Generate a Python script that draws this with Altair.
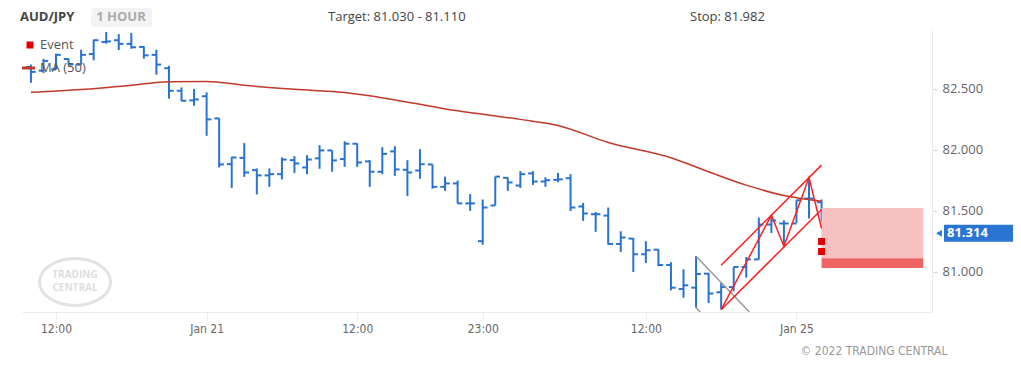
import altair as alt
import pandas as pd

# ---------------- data ----------------
bar_idx = list(range(64))
opens = [82.68, 82.65, 82.66, 82.746, 82.70, 82.787, 82.886, 82.90, 82.87, 82.845,
         82.78, 82.67, 82.485, 82.406, 82.44, 82.258, 81.882, 81.934, 81.833, 81.79,
         81.80, 81.915, 81.855, 81.93, 81.995, 81.924, 82.05, 81.905, 81.82, 81.987,
         81.836, 81.83, 81.88, 81.696, 81.724, 81.56, 81.25, 81.543, 81.77, 81.707,
         81.806, 81.74, 81.753, 81.767, 81.535, 81.471, 81.46, 81.227, 81.271, 81.142,
         81.18, 81.054, 80.857, 80.868, 80.983, 80.83, 80.873, 81.038, 81.10, 81.386,
         81.395, 81.395, 81.60, 81.57]
highs = [82.70, 82.746, 82.79, 82.748, 82.822, 82.905, 82.968, 82.95, 82.96, 82.85,
         82.822, 82.69, 82.513, 82.50, 82.472, 82.258, 81.942, 82.055, 81.847, 81.847,
         81.937, 81.948, 81.956, 82.038, 81.995, 82.07, 82.053, 81.915, 82.022, 82.03,
         81.915, 82.006, 81.88, 81.78, 81.748, 81.636, 81.592, 81.78, 81.773, 81.825,
         81.825, 81.775, 81.81, 81.80, 81.564, 81.49, 81.526, 81.331, 81.276, 81.249,
         81.181, 81.077, 81.019, 81.126, 80.988, 80.906, 81.038, 81.12, 81.444, 81.463,
         81.422, 81.586, 81.77, 81.592]
lows = [82.55, 82.63, 82.66, 82.70, 82.70, 82.735, 82.872, 82.82, 82.83, 82.748,
        82.617, 82.42, 82.40, 82.362, 82.115, 81.855, 81.687, 81.778, 81.633, 81.696,
        81.757, 81.81, 81.80, 81.844, 81.82, 81.86, 81.86, 81.696, 81.80, 81.786,
        81.62, 81.762, 81.68, 81.663, 81.56, 81.498, 81.22, 81.543, 81.663, 81.687,
        81.712, 81.696, 81.734, 81.498, 81.416, 81.326, 81.22, 81.161, 80.997, 81.07,
        81.044, 80.846, 80.786, 80.704, 80.742, 80.69, 80.838, 80.95, 81.099, 81.317,
        81.208, 81.40, 81.436, 81.41]
closes = [82.64, 82.73, 82.78, 82.70, 82.78, 82.90, 82.89, 82.87, 82.842, 82.776,
          82.70, 82.485, 82.403, 82.414, 82.25, 81.88, 81.937, 81.814, 81.79, 81.80,
          81.92, 81.888, 81.92, 81.995, 81.913, 82.05, 81.896, 81.82, 81.967, 81.839,
          81.814, 81.882, 81.696, 81.724, 81.56, 81.56, 81.526, 81.78, 81.732, 81.80,
          81.74, 81.75, 81.757, 81.526, 81.477, 81.471, 81.227, 81.28, 81.142, 81.175,
          81.054, 80.868, 80.887, 80.98, 80.82, 80.873, 81.038, 81.10, 81.386, 81.42,
          81.395, 81.586, 81.60, 81.428]

ma_idx = [0, 4, 8, 11, 14, 17, 21, 25, 29, 34, 39, 42, 46, 51, 54, 57, 60, 63]
ma_val = [82.472, 82.495, 82.53, 82.56, 82.562, 82.53, 82.497, 82.47, 82.41, 82.32,
          82.25, 82.20, 82.06, 81.935, 81.82, 81.71, 81.625, 81.578]

zigzag_idx = [55, 59, 60, 62, 63]
zigzag_val = [80.687, 81.463, 81.208, 81.773, 81.354]
upper_idx = [55, 63]
upper_val = [81.052, 81.874]
lower_idx = [55, 63]
lower_val = [80.687, 81.51]
gray1_idx = [53, 57.25]
gray1_val = [81.126, 80.668]
gray2_idx = [53, 53.33]
gray2_val = [80.704, 80.668]

box_x = [63, 71.1]
box_light = [81.11, 81.523]
box_dark = [81.03, 81.11]
event_idx = [63, 63]
event_val = [81.247, 81.165]

last_price = 81.314
tick_idx = [2, 14, 26, 36, 49, 61]
tick_lbl = ["12:00", "Jan 21", "12:00", "23:00", "12:00", "Jan 25"]
y_ticks = [81.0, 81.5, 82.0, 82.5]

# ---------------- styling ----------------
BLUE = "#2872d2"
MA_RED = "#c0392b"
PAT_RED = "#ff1f1f"
FONT = "Open Sans"
NARROW = "DejaVu Sans Condensed, Open Sans"

xscale = alt.Scale(domain=[-0.71, 71.8], nice=False, zero=False)
yscale = alt.Scale(domain=[80.668, 82.984], nice=False, zero=False)

label_expr = " : ".join(
    f"datum.value == {v} ? '{t}'" for v, t in zip(tick_idx, tick_lbl)
) + " : ''"

xaxis = alt.Axis(values=tick_idx, labelExpr=label_expr, title=None, grid=False,
                 tickSize=8, tickColor="#ececec", domainColor="#ececec",
                 labelColor="#666", labelFont=NARROW, labelFontSize=12,
                 labelPadding=3)
yaxis = alt.Axis(values=y_ticks, format=".3f", orient="right", title=None, grid=False,
                 tickSize=5, tickColor="#dddddd", domainColor="#ececec",
                 labelColor="#666", labelFont=FONT, labelFontSize=13, labelPadding=5)


def X(field):
    return alt.X(field, scale=xscale, axis=xaxis)


def Y(field):
    return alt.Y(field, scale=yscale, axis=yaxis)


df = pd.DataFrame({"i": bar_idx, "o": opens, "h": highs, "l": lows, "c": closes})

hl = alt.Chart(df).mark_rule(color=BLUE, strokeWidth=2).encode(
    x=X("i:Q"), y=Y("l:Q"), y2="h:Q")
otick = alt.Chart(df).transform_calculate(x0="datum.i - 0.38").mark_rule(
    color=BLUE, strokeWidth=2).encode(x=X("x0:Q"), x2="i:Q", y=Y("o:Q"))
ctick = alt.Chart(df).transform_calculate(x1="datum.i + 0.38").mark_rule(
    color=BLUE, strokeWidth=2).encode(x=X("i:Q"), x2="x1:Q", y=Y("c:Q"))

ma = alt.Chart(pd.DataFrame({"i": ma_idx, "v": ma_val})).mark_line(
    color=MA_RED, strokeWidth=1.5, interpolate="monotone").encode(
    x=X("i:Q"), y=Y("v:Q"))


def line(idx, val, color, w=1.5):
    return alt.Chart(pd.DataFrame({"i": idx, "v": val})).mark_line(
        color=color, strokeWidth=w).encode(x=X("i:Q"), y=Y("v:Q"))


gray1 = line(gray1_idx, gray1_val, "#9a9a9a")
gray2 = line(gray2_idx, gray2_val, "#9a9a9a")
upper = line(upper_idx, upper_val, PAT_RED)
lower = line(lower_idx, lower_val, PAT_RED)
zig = line(zigzag_idx, zigzag_val, PAT_RED)

boxes = alt.Chart(pd.DataFrame({
    "x0": [box_x[0], box_x[0]], "x1": [box_x[1], box_x[1]],
    "y0": [box_light[0], box_dark[0]], "y1": [box_light[1], box_dark[1]],
    "col": ["#f8c1c1", "#ee6363"]})).mark_rect().encode(
    x=X("x0:Q"), x2="x1:Q", y=Y("y0:Q"), y2="y1:Q",
    color=alt.Color("col:N", scale=None))

events = alt.Chart(pd.DataFrame({"i": event_idx, "v": event_val})).mark_square(
    size=49, color="#e00000", opacity=1).encode(x=X("i:Q"), y=Y("v:Q"))

# current price label
lp = pd.DataFrame({"v": [last_price], "t": [f"{last_price:.3f}"]})
lp_rect = alt.Chart(lp).transform_calculate(
    a="datum.v - 0.07", b="datum.v + 0.07").mark_rect(color="#2a75d3").encode(
    x=alt.value(922), x2=alt.value(991), y=Y("a:Q"), y2="b:Q")
lp_tri = alt.Chart(lp).mark_point(shape="triangle-left", filled=True, size=45,
                                  color="#2a75d3", opacity=1).encode(
    x=alt.value(917), y=Y("v:Q"))
lp_txt = alt.Chart(lp).mark_text(color="white", font=FONT, fontSize=13,
                                 fontWeight="bold", align="left").encode(
    x=alt.value(925), y=Y("v:Q"), text="t:N")


def txt(s, x, y, size=13, color="#555", weight="normal", align="left", font=FONT):
    return alt.Chart(pd.DataFrame({"t": [s]})).mark_text(
        fontSize=size, color=color, fontWeight=weight, align=align, font=font,
        baseline="middle").encode(x=alt.value(x), y=alt.value(y), text="t:N")


hour_bg = alt.Chart(pd.DataFrame({"a": [0]})).mark_rect(
    color="#f3f3f3", cornerRadius=3).encode(
    x=alt.value(69), x2=alt.value(130), y=alt.value(-22), y2=alt.value(-3))

header = [
    txt("AUD/JPY", -2, -13, 13, "#444", "bold"),
    hour_bg,
    txt("1 HOUR", 99, -13, 13, "#aaa", "bold", "center"),
    txt("Target: 81.030 - 81.110", 306, -13, 13, "#444"),
    txt("Stop: 81.982", 668, -13, 13, "#444"),
]

leg_sq = alt.Chart(pd.DataFrame({"a": [0]})).mark_square(
    size=49, color="#e00000", opacity=1).encode(x=alt.value(8), y=alt.value(15))
leg_ln = alt.Chart(pd.DataFrame({"a": [0]})).mark_rule(
    color=MA_RED, strokeWidth=3).encode(x=alt.value(0), x2=alt.value(13), y=alt.value(38))
legend = [leg_sq, txt("Event", 18, 15, 13, "#555"), leg_ln, txt("MA (50)", 18, 38, 13, "#555")]

ellipse = alt.Chart(pd.DataFrame({"a": [0]})).mark_point(
    shape="M -1 0 A 1 0.66 0 1 0 1 0 A 1 0.66 0 1 0 -1 0 Z", size=5041,
    stroke="#e2e2e2", strokeWidth=3, filled=False, opacity=1).encode(
    x=alt.value(53), y=alt.value(252))
wm = [ellipse,
      txt("TRADING", 53, 245, 10, "#dedede", "bold", "center"),
      txt("CENTRAL", 53, 258, 10, "#dedede", "bold", "center")]

copy = txt("© 2022 TRADING CENTRAL", 852, 321, 12, "#999", "normal", "center", NARROW)

chart = alt.layer(
    *wm, hl, otick, ctick, ma, gray1, gray2, boxes, upper, lower, zig, events,
    lp_rect, lp_tri, lp_txt, *header, *legend, copy
).properties(
    width=910, height=282,
    autosize=alt.AutoSizeParams(type="none"),
    padding={"left": 14, "top": 22, "right": 81, "bottom": 45},
    background="white",
).configure_view(strokeWidth=0)

chart.save("out.html", embed_options={"renderer": "svg", "actions": False})
